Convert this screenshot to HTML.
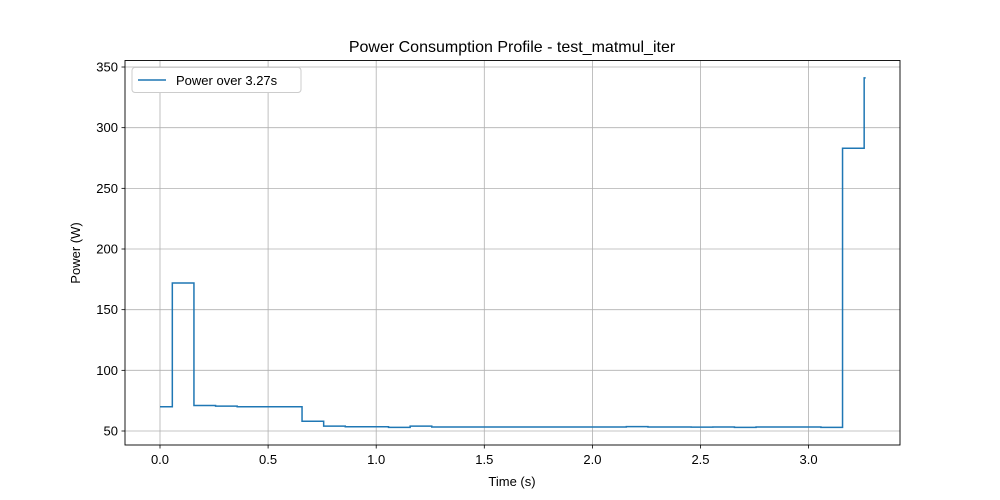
<!DOCTYPE html>
<html><head><meta charset="utf-8"><style>
body{margin:0;background:#fff}
svg{display:block;font-family:"Liberation Sans","DejaVu Sans",sans-serif}
</style></head><body>
<svg id="chart" width="1000" height="500">
<rect width="1000" height="500" fill="#fff"/>
<g id="grid"></g>
<g id="ticks"></g>
<path id="line" fill="none" stroke="#1f77b4" stroke-width="1.5" stroke-linejoin="miter"/>
<rect x="125" y="60.5" width="775" height="384.5" fill="none" stroke="#000" stroke-width="0.9"/>
<text x="512" y="52" font-size="16" text-anchor="middle">Power Consumption Profile - test_matmul_iter</text>
<text x="512" y="486" font-size="13" text-anchor="middle">Time (s)</text>
<text transform="translate(80,253) rotate(-90)" font-size="13" text-anchor="middle">Power (W)</text>
<g>
<rect x="132" y="67.5" width="169" height="25" rx="3" fill="#fff" stroke="#ccc"/>
<line x1="138" y1="80" x2="166" y2="80" stroke="#1f77b4" stroke-width="1.5"/>
<text x="176" y="85" font-size="13">Power over 3.27s</text>
</g>
</svg>
<script>
const times=[0,0.057,0.157,0.257,0.357,0.457,0.557,0.657,0.757,0.857,0.957,1.057,1.157,1.257,1.357,1.457,1.557,1.657,1.757,1.857,1.957,2.057,2.157,2.257,2.357,2.457,2.557,2.657,2.757,2.857,2.957,3.057,3.157,3.257];
const power=[70,172,71,70.5,70,70,70,58,54,53.5,53.5,53,54,53.3,53.3,53.3,53.3,53.3,53.3,53.3,53.3,53.3,53.6,53.3,53.3,53.2,53.3,53,53.3,53.3,53.3,53,283,341];
const endTime=3.264;
const xTicks=[0,0.5,1.0,1.5,2.0,2.5,3.0];
const xLabels=["0.0","0.5","1.0","1.5","2.0","2.5","3.0"];
const yTicks=[50,100,150,200,250,300,350];
const X=t=>160+t*216.2;
const Y=v=>431-(v-50)*1.2133;
const NS="http://www.w3.org/2000/svg";
const grid=document.getElementById('grid'),tk=document.getElementById('ticks');
function mk(tag,attrs,parent){const e=document.createElementNS(NS,tag);for(const k in attrs)e.setAttribute(k,attrs[k]);parent.appendChild(e);return e;}
xTicks.forEach((t,i)=>{
 const g=mk('line',{x1:X(t),x2:X(t),y1:60.5,y2:445,stroke:'#b0b0b0','stroke-width':0.8},grid);
 
 
 mk('line',{x1:X(t),x2:X(t),y1:445,y2:448.5,stroke:'#000','stroke-width':0.8},tk);
 const tx=mk('text',{x:X(t),y:464,'font-size':13,'text-anchor':'middle'},tk);
 tx.textContent=xLabels[i];
 
 
});
yTicks.forEach(v=>{
 const g=mk('line',{x1:125,x2:900,y1:Y(v),y2:Y(v),stroke:'#b0b0b0','stroke-width':0.8},grid);
 
 
 mk('line',{x1:121.5,x2:125,y1:Y(v),y2:Y(v),stroke:'#000','stroke-width':0.8},tk);
 const tx=mk('text',{x:118,y:Y(v)+4.5,'font-size':13,'text-anchor':'end'},tk);
 tx.textContent=v;
 
 
});
let d='M'+X(times[0])+','+Y(power[0]);
for(let i=1;i<times.length;i++){d+=' H'+X(times[i])+' V'+Y(power[i]);}
d+=' H'+X(endTime);
document.getElementById('line').setAttribute('d',d);
</script>
</body></html>
